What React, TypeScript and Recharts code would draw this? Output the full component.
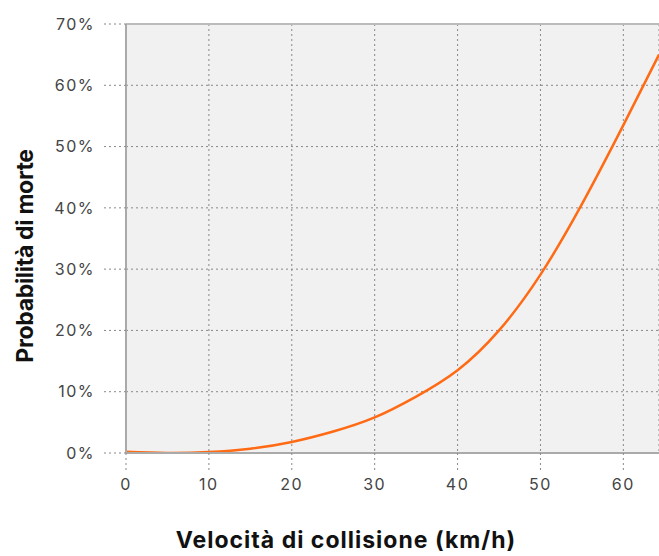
import { LineChart, Line, XAxis, YAxis, CartesianGrid, ReferenceLine } from "recharts"

const speeds = [0, 5, 10, 15, 20, 25, 30, 35, 40, 45, 50, 55, 60, 64.3]
const probability = [0.2, 0.0, 0.15, 0.7, 1.8, 3.5, 5.8, 9.2, 13.5, 20.0, 29.1, 40.6, 53.5, 65.0]
const xTicks = [0, 10, 20, 30, 40, 50, 60]
const yTicks = [0, 10, 20, 30, 40, 50, 60, 70]

const data = speeds.map((v, i) => ({ v, p: probability[i] }))

const tickStyle = { fill: "#444", fontSize: 16, fontFamily: "Inter, sans-serif", letterSpacing: 1.5 }
const gridLine = { stroke: "#888", strokeDasharray: "2 3" }

export default function App() {
  return (
    <div style={{ position: "absolute", left: 0, top: 0, width: 659, height: 556, background: "#fff" }}>
      <LineChart width={659} height={556} data={data} margin={{ top: 24, right: 0, left: 0, bottom: 0 }}>
        <CartesianGrid fill="#f1f1f1" stroke="#888" strokeDasharray="2 3" />
        <XAxis
          type="number"
          dataKey="v"
          domain={[0, 64.3]}
          ticks={xTicks}
          tick={tickStyle}
          tickSize={17}
          tickMargin={9}
          tickLine={gridLine}
          axisLine={{ stroke: "#aaa", strokeWidth: 2 }}
          height={103}
          label={{
            content: () => (
              <text x={346} y={548} textAnchor="middle" fontSize={23} fontWeight={700} letterSpacing={1} fontFamily="Inter, sans-serif" fill="#111">
                Velocità di collisione (km/h)
              </text>
            ),
          }}
        />
        <YAxis
          type="number"
          domain={[0, 70]}
          ticks={yTicks}
          allowDataOverflow
          tick={tickStyle}
          tickFormatter={(t) => `${t}%`}
          tickSize={22}
          tickMargin={9}
          tickLine={gridLine}
          axisLine={{ stroke: "#aaa", strokeWidth: 2 }}
          width={126}
          label={{
            content: () => (
              <text
                x={33}
                y={256}
                transform="rotate(-90 33 256)"
                textAnchor="middle"
                fontSize={23}
                fontWeight={700}
                letterSpacing={-0.3}
                fontFamily="Inter, sans-serif"
                fill="#111"
              >
                Probabilità di morte
              </text>
            ),
          }}
        />
        <ReferenceLine y={70} stroke="#bbb" strokeWidth={2} />
        <Line
          type="natural"
          dataKey="p"
          stroke="#ff6a14"
          strokeWidth={2.5}
          dot={false}
          isAnimationActive={false}
        />
      </LineChart>
    </div>
  )
}
